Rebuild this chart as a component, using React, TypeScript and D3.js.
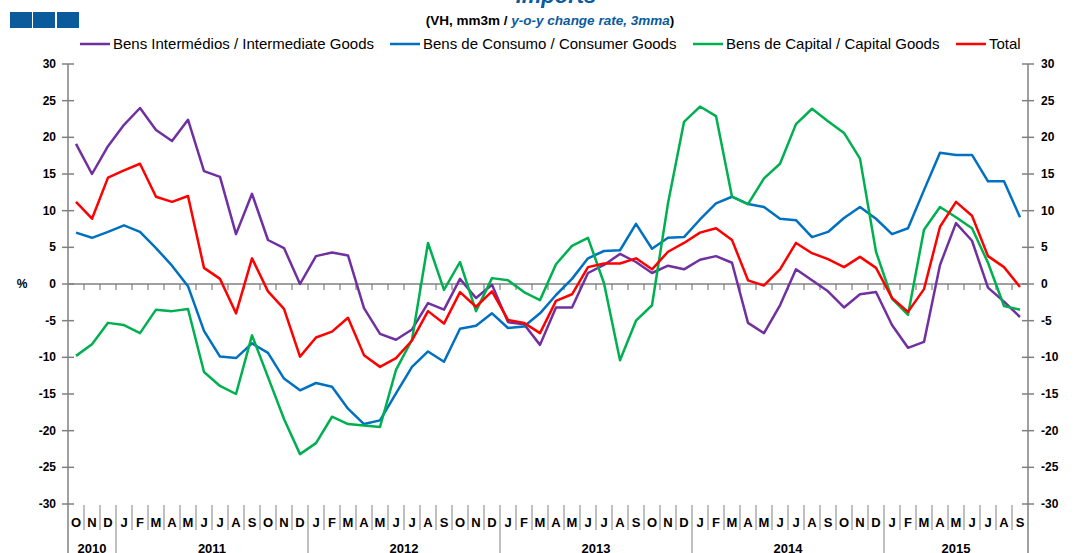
import React from "react";
import * as d3 from "d3";

const monthLabels = [
  "O","N","D",
  "J","F","M","A","M","J","J","A","S","O","N","D",
  "J","F","M","A","M","J","J","A","S","O","N","D",
  "J","F","M","A","M","J","J","A","S","O","N","D",
  "J","F","M","A","M","J","J","A","S","O","N","D",
  "J","F","M","A","M","J","J","A","S",
];
const yearLabels = ["2010", "2011", "2012", "2013", "2014", "2015"];
const yearCounts = [3, 12, 12, 12, 12, 9];
const yTicks = [30, 25, 20, 15, 10, 5, 0, -5, -10, -15, -20, -25, -30];

const intermediate = [
  19.1, 15.0, 18.8, 21.7, 24.0, 21.0, 19.5, 22.4, 15.4, 14.6,
  6.8, 12.3, 6.0, 4.9, 0.0, 3.8, 4.3, 3.9, -3.3, -6.8,
  -7.6, -6.2, -2.6, -3.5, 0.7, -1.9, -0.1, -5.2, -5.5, -8.3,
  -3.2, -3.2, 1.5, 2.6, 4.1, 3.0, 1.5, 2.5, 2.0, 3.3,
  3.8, 2.9, -5.3, -6.7, -2.9, 2.0, 0.5, -1.0, -3.2, -1.4,
  -1.1, -5.6, -8.7, -7.9, 2.6, 8.3, 5.9, -0.5, -2.4, -4.5,
];
const consumer = [
  7.0, 6.3, 7.1, 8.0, 7.1, 4.9, 2.5, -0.3, -6.4, -9.9,
  -10.1, -8.1, -9.4, -12.9, -14.5, -13.5, -14.0, -17.0, -19.1, -18.6,
  -14.9, -11.3, -9.2, -10.6, -6.1, -5.7, -4.0, -6.0, -5.8, -4.0,
  -1.5, 0.7, 3.5, 4.5, 4.6, 8.2, 4.8, 6.3, 6.4, 8.8,
  11.0, 11.9, 10.9, 10.5, 8.9, 8.7, 6.4, 7.1, 9.0, 10.5,
  8.9, 6.8, 7.6, 12.8, 17.9, 17.6, 17.6, 14.0, 14.0, 9.1,
];
const capital = [
  -9.8, -8.2, -5.3, -5.6, -6.7, -3.5, -3.7, -3.4, -12.0, -13.9,
  -15.0, -7.0, -12.7, -18.4, -23.2, -21.7, -18.1, -19.1, -19.3, -19.5,
  -11.7, -7.6, 5.6, -0.8, 3.0, -3.7, 0.8, 0.5, -1.1, -2.2,
  2.7, 5.2, 6.3, 0.1, -10.4, -5.0, -2.9, 11.0, 22.1, 24.2,
  22.9, 11.9, 10.9, 14.4, 16.4, 21.8, 23.9, 22.2, 20.6, 17.1,
  4.4, -2.0, -4.2, 7.4, 10.5, 9.1, 7.6, 2.9, -3.0, -3.5,
];
const total = [
  11.2, 8.9, 14.5, 15.5, 16.4, 11.9, 11.2, 12.0, 2.2, 0.7,
  -4.0, 3.5, -1.0, -3.4, -9.9, -7.3, -6.5, -4.6, -9.7, -11.3,
  -10.1, -7.7, -3.7, -5.4, -1.1, -3.1, -1.0, -4.9, -5.3, -6.7,
  -2.3, -1.4, 2.3, 2.8, 2.8, 3.5, 2.0, 4.4, 5.6, 7.0,
  7.6, 6.0, 0.5, -0.2, 2.0, 5.6, 4.2, 3.4, 2.3, 3.7,
  2.2, -1.9, -3.8, -0.7, 7.8, 11.2, 9.3, 3.8, 2.3, -0.4,
];

const seriesNames = [
  "Bens Intermédios / Intermediate Goods",
  "Bens de Consumo / Consumer Goods",
  "Bens de Capital / Capital Goods",
  "Total",
];
const seriesValues = [intermediate, consumer, capital, total];
const seriesColors = ["#7030a0", "#0070c0", "#00b050", "#ff0000"];
const legendX = [80, 390, 693, 956];

const W = 1075;
const H = 553;
const left = 68;
const right = 1028;
const top = 64;
const bottom = 504;
const axisColor = "#808080";
const font = "'Liberation Sans', Arial, sans-serif";

export default function App() {
  const idx = d3.range(monthLabels.length);
  const x = d3.scaleBand<number>().domain(idx).range([left, right]);
  const bw = x.bandwidth();
  const cx = (i: number) => (x(i) as number) + bw / 2;
  const y = d3.scaleLinear().domain([-30, 30]).range([bottom, top]);
  const line = d3
    .line<number>()
    .x((_, i) => cx(i))
    .y((d) => y(d));

  const boundaries = d3.range(monthLabels.length + 1).map((i) => left + i * bw);
  const yearStarts: number[] = [];
  let acc = 0;
  yearCounts.forEach((c) => {
    yearStarts.push(acc);
    acc += c;
  });

  return (
    <svg
      width={W}
      height={H}
      style={{ position: "absolute", left: 0, top: 0, background: "#fff" }}
      fontFamily={font}
    >
      {/* logo squares */}
      {[10, 33, 57].map((sx, k) => (
        <rect key={k} x={sx} y={12} width={22} height={16} fill="#0a5a9c" />
      ))}
      {/* title */}
      <text x={556} y={3} textAnchor="middle" fontSize={22} fontWeight="bold" fontStyle="italic" fill="#0a5a9c">
        Imports
      </text>
      <text x={550} y={25} textAnchor="middle" fontSize={13.5} fontWeight="bold" fill="#000">
        (VH, mm3m /{" "}
        <tspan fill="#0a5a9c" fontStyle="italic">y-o-y change rate, 3mma</tspan>)
      </text>
      {/* legend */}
      {seriesNames.map((n, k) => (
        <g key={n}>
          <line x1={legendX[k]} x2={legendX[k] + 30} y1={44} y2={44} stroke={seriesColors[k]} strokeWidth={2.5} />
          <text x={legendX[k] + 33} y={49} fontSize={15} fill="#000">
            {n}
          </text>
        </g>
      ))}
      {/* y axes */}
      <line x1={left} x2={left} y1={top} y2={H} stroke={axisColor} strokeWidth={1.5} />
      <line x1={right} x2={right} y1={top} y2={H} stroke={axisColor} strokeWidth={1.5} />
      {yTicks.map((t) => (
        <g key={t}>
          <line x1={left - 6} x2={left + 6} y1={y(t)} y2={y(t)} stroke={axisColor} strokeWidth={1.5} />
          <line x1={right - 6} x2={right + 6} y1={y(t)} y2={y(t)} stroke={axisColor} strokeWidth={1.5} />
          <text x={56} y={y(t) + 4} textAnchor="end" fontSize={12} fontWeight="bold">
            {t}
          </text>
          <text x={1041} y={y(t) + 4} textAnchor="start" fontSize={12} fontWeight="bold">
            {t}
          </text>
        </g>
      ))}
      <text x={22} y={y(0) + 4} textAnchor="middle" fontSize={12} fontWeight="bold">
        %
      </text>
      {/* zero line with ticks */}
      <line x1={left} x2={right} y1={y(0)} y2={y(0)} stroke={axisColor} strokeWidth={1.5} />
      {boundaries.slice(1, -1).map((bx, i) => (
        <line key={i} x1={bx} x2={bx} y1={y(0)} y2={y(0) + 6} stroke={axisColor} strokeWidth={1.2} />
      ))}
      {/* month separators */}
      {boundaries.slice(1, -1).map((bx, i) => {
        const isYear = yearStarts.includes(i + 1);
        return (
          <line key={"s" + i} x1={bx} x2={bx} y1={bottom + 1} y2={isYear ? H : 530} stroke={axisColor} strokeWidth={1} />
        );
      })}
      {monthLabels.map((m, i) => (
        <text key={"m" + i} x={cx(i)} y={527} textAnchor="middle" fontSize={13} fontWeight="bold">
          {m}
        </text>
      ))}
      {yearLabels.map((yl, k) => {
        const s = yearStarts[k];
        const e = s + yearCounts[k];
        const mid = (left + s * bw + left + e * bw) / 2;
        return (
          <text key={yl} x={mid} y={553} textAnchor="middle" fontSize={13} fontWeight="bold">
            {yl}
          </text>
        );
      })}
      {/* series */}
      {seriesValues.map((vals, k) => (
        <path key={k} d={line(vals) || ""} fill="none" stroke={seriesColors[k]} strokeWidth={2.5} strokeLinejoin="round" />
      ))}
    </svg>
  );
}
